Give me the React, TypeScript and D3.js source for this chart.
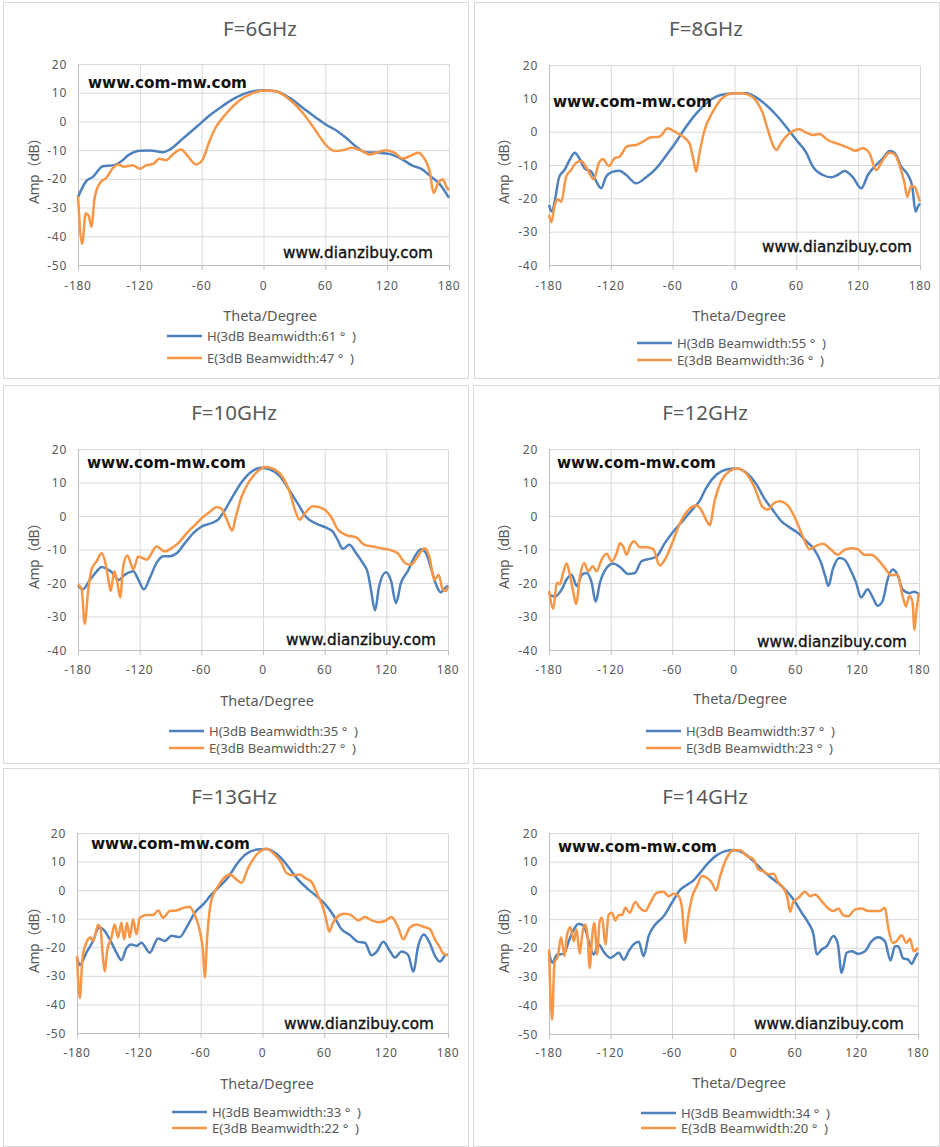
import * as d3 from "d3";

type Pt = [number, number];

// theta (deg) -> amplitude (dB)
const xTicks = [-180, -120, -60, 0, 60, 120, 180];

const h6: Pt[] = [[-180,-26.3],[-172,-20.8],[-165.5,-19.3],[-156,-15.6],[-146,-15.3],[-140,-14.4],[-130,-11.5],[-120,-10.2],[-110,-10.1],[-97.5,-10.7],[-91,-9.8],[-78,-5.9],[-64,-1.6],[-53,1.9],[-40,5.3],[-27,8.3],[-14,10.2],[0,10.9],[12,10.5],[25,8.3],[38,4.8],[51,1.3],[60,-1.0],[70,-3.0],[80,-5.7],[90,-8.8],[99,-10.7],[112,-10.9],[122,-11.3],[135,-13.3],[144,-15.3],[154,-16.7],[162,-19.1],[170,-21.4],[180,-26.6]];
const e6: Pt[] = [[-180,-26],[-176,-42.6],[-172.5,-32],[-169.5,-33],[-167,-36.7],[-164,-27],[-159,-21.6],[-152.5,-19.6],[-146,-16.2],[-141,-15],[-135,-15.8],[-127,-15.3],[-120,-16.5],[-114,-15.3],[-107,-14.8],[-101,-13],[-94.5,-13.5],[-88,-11.5],[-80,-9.8],[-73.5,-12.1],[-65.5,-15],[-59,-13.3],[-53,-7.4],[-46.5,-2.2],[-37,2.4],[-24,7.1],[-11,9.8],[2,10.8],[12,10.5],[25,7.7],[38,3.0],[51,-3.4],[61,-8.4],[69,-10.3],[77,-10],[86,-9.2],[94,-10],[103,-11.5],[112,-10.6],[119,-10],[127,-10.9],[135,-12.9],[142,-12.1],[150,-10.9],[154.5,-12.1],[161.5,-17.9],[165,-24.9],[169.5,-21.4],[174,-20.2],[178,-23.1],[180,-24]];

const h8: Pt[] = [[-180,-22],[-177,-24],[-174.8,-21.5],[-170,-13.5],[-165,-11.5],[-160,-8.5],[-155,-6.3],[-150.5,-8],[-145.6,-11],[-139,-12],[-134,-15],[-129.4,-17],[-124.6,-13.5],[-118,-12],[-111.7,-11.7],[-105,-13],[-95.5,-15.5],[-85.8,-13.7],[-76,-11],[-66,-7],[-56.6,-3],[-47,1.5],[-37,5.5],[-27.5,8.5],[-17.8,10.5],[-8,11.3],[1.6,11.5],[11.3,11.5],[21,10.3],[30.7,8],[40.5,5],[50,1.5],[60,-2.5],[69.6,-6.3],[76,-10.5],[85.8,-13],[93.9,-13.7],[100,-13],[106.8,-11.8],[115,-13.7],[123,-17],[129.4,-13],[137.5,-10],[144,-8],[150.5,-5.8],[155.3,-6.3],[161.8,-10.5],[168.3,-13],[172.5,-16.5],[175.7,-24],[178,-22.5],[180,-21.5]];
const e8: Pt[] = [[-180,-25],[-177.7,-27.2],[-174.8,-22.5],[-171.5,-20.3],[-168,-21],[-163.4,-13.5],[-158.6,-11.5],[-153.7,-9.3],[-148.9,-8.8],[-142.4,-11.5],[-136.6,-14.3],[-131.7,-9.5],[-127.8,-8.2],[-122,-10.3],[-116.5,-8],[-111.7,-7.5],[-103.6,-4.3],[-95.5,-4],[-89,-3],[-81,-1.7],[-72.8,-1.5],[-64.7,1.0],[-58,0],[-50,-1.5],[-43.7,-3.5],[-39.8,-8.5],[-37.2,-12],[-34.6,-7.5],[-29,0.5],[-21,6],[-13,9.7],[-4.9,11.3],[4.9,11.5],[13,11.1],[21,9.3],[27.5,5.5],[32.4,0.5],[37.2,-4],[40.5,-5.5],[45.3,-3.3],[53.4,-0.5],[63,0.7],[69.6,-0.3],[76,-1],[82.5,-0.7],[90.6,-2.5],[102,-3.8],[111.7,-5],[117.5,-5.7],[124.6,-5],[131,-6.5],[137.5,-11.5],[144,-8.5],[150.5,-6.3],[155.3,-6.8],[160,-10],[165,-15.5],[167.6,-19.5],[171.5,-16.3],[174.8,-16.5],[177.3,-18.5],[180,-21]];

const h10: Pt[] = [[-180,-20.7],[-175.4,-21.9],[-168,-18.9],[-161.8,-16.5],[-157,-15.2],[-152,-15.8],[-145.6,-17.2],[-140.8,-19.1],[-134.3,-17.5],[-126.2,-16.5],[-121.4,-18.9],[-115.9,-21.9],[-110,-18.4],[-103.6,-14],[-97,-12],[-90.6,-12],[-84,-11.1],[-76,-8.1],[-68,-5.2],[-60,-3.2],[-51.8,-2.3],[-43.7,-1.1],[-37.2,1.7],[-29,6.1],[-21,10],[-11.3,13.2],[-1.6,14.4],[6.5,13.9],[16.2,12],[26,7.5],[34,3.6],[42,-0.3],[51.8,-2.3],[61.5,-3.5],[68,-4.7],[72.8,-7.2],[77.7,-9.8],[84,-8.6],[90.6,-11.1],[97,-14],[102,-17],[105,-21.9],[109,-28.2],[113,-20.9],[119.7,-16.8],[124.6,-19.4],[129.4,-26],[134.3,-19.9],[140.8,-16.5],[147,-12.5],[153.7,-9.9],[158.6,-11.1],[163.4,-15.5],[168.3,-20.4],[173,-22.8],[176.4,-21.7],[180,-20.7]];
const e10: Pt[] = [[-180,-20.4],[-176.4,-21.9],[-173.5,-32.2],[-170,-21.9],[-166.7,-15.8],[-161.8,-13.5],[-157,-11.1],[-153.7,-13.5],[-150.5,-18.9],[-148.2,-22.4],[-144.7,-16.5],[-141.7,-19.9],[-139,-24.3],[-136,-15],[-132,-11.8],[-128.8,-14],[-126.2,-16],[-121.4,-12.1],[-113,-13],[-108.4,-11.1],[-103.6,-9.1],[-95.5,-10.6],[-89,-9.6],[-82.5,-8.1],[-74.4,-5.2],[-66.3,-2.7],[-58.3,-0.3],[-51.8,1.2],[-45.3,2.6],[-40.5,2.2],[-35.6,-0.8],[-32.4,-3.2],[-30,-4.4],[-26.9,-0.8],[-21,5.6],[-13,10.5],[-4.9,13.4],[3.2,14.6],[11.3,13.9],[19.4,11.5],[26,7.1],[30.7,2.2],[35.6,-1.1],[40.5,0.7],[48.5,2.9],[58.3,2.2],[66.3,-0.3],[72.8,-4],[80.9,-5.7],[90.6,-6.4],[98.7,-8.6],[106.8,-9.1],[114.9,-9.6],[123,-10.1],[131,-11.1],[139,-14.2],[144,-14.5],[150.5,-12.1],[157,-9.6],[161.8,-12.1],[166.7,-19.1],[170.9,-17.5],[174.8,-21.9],[178,-22.4],[180,-21.1]];

const h12: Pt[] = [[-180,-23.6],[-174,-24],[-167.6,-21.9],[-162.8,-18.9],[-158,-17.5],[-153,-20.9],[-148,-17.5],[-143.4,-17],[-138.5,-19.9],[-134.6,-25.6],[-130.4,-19.9],[-124,-15.5],[-117.5,-14.2],[-111,-15.2],[-103,-17.3],[-96.4,-17],[-90,-13.5],[-81.9,-12.8],[-75.4,-12.1],[-67.3,-8.1],[-59.2,-4.7],[-49.5,-1.3],[-39.8,2.2],[-33.3,4.6],[-26.9,8.5],[-17.2,12.3],[-7.4,13.9],[2.3,14.2],[12,12.9],[21.7,9.5],[29.8,5.1],[37.9,1.7],[46,-1.5],[54,-3.4],[62,-5],[70,-7.4],[78.3,-10.1],[84.8,-14],[88.7,-17.9],[91.9,-20.9],[96,-16],[102.6,-12.5],[107.4,-13],[114,-16.5],[118.8,-19.9],[123.6,-24.3],[130,-21.9],[135,-24.3],[139.8,-26.8],[144.7,-25.3],[149.5,-18.9],[154.4,-16],[159,-17.5],[164,-21.9],[170.6,-23],[175.4,-22.6],[180,-23.3]];
const e12: Pt[] = [[-180,-22.4],[-175.7,-27.7],[-172.5,-19.9],[-169.3,-20.4],[-166.7,-17.5],[-162.8,-14.2],[-159.5,-17.9],[-156.3,-22.8],[-153.7,-26.3],[-149.8,-17.9],[-146,-14],[-141.7,-16.5],[-137.5,-15],[-133.7,-16.5],[-128.8,-13],[-124,-11.3],[-119,-13.5],[-114.2,-11.1],[-111,-8.1],[-107.8,-9.1],[-104.5,-11.6],[-100.6,-8.6],[-97.4,-7.5],[-91.6,-9.3],[-85,-9.3],[-78.6,-9.9],[-72.2,-14.8],[-66.3,-12.5],[-60.8,-8.6],[-52.8,-2.3],[-44.7,1.7],[-36.6,3.1],[-31.7,1.7],[-26.9,-1.3],[-23.6,-2.7],[-18.8,4.6],[-12.3,10.5],[-4.2,13.4],[2.9,14.2],[12,12.6],[20,8.5],[28,2.6],[33,1.9],[37.9,3.6],[44.3,4.4],[52.4,3.1],[60.5,-1.3],[67,-6.2],[73.5,-9.9],[80,-8.9],[86.4,-8.3],[94.5,-10.1],[101,-11.6],[107.4,-10.1],[114,-9.6],[120.4,-9.9],[126.9,-11.6],[133.3,-11.6],[141.4,-13.5],[147.9,-16],[152.8,-17.7],[159.2,-17.5],[164,-23.8],[167.3,-27],[170.6,-23.8],[173.8,-25.8],[175.4,-34.1],[177.7,-27.7],[180,-23]];

const h13: Pt[] = [[-180,-23.6],[-177.3,-26.2],[-170.9,-21.9],[-164.4,-17.8],[-158.6,-13.1],[-154.7,-13.7],[-148.2,-17.2],[-141.7,-21.9],[-136.9,-24.5],[-132,-20.3],[-127.2,-19],[-122.3,-19.5],[-117.5,-18.4],[-109.4,-21.9],[-101.3,-16.9],[-94.8,-17.8],[-88.3,-16],[-80.3,-16.4],[-73.8,-13.1],[-65.7,-7.9],[-57.6,-5],[-49.5,-1.5],[-41.4,1.4],[-33.3,4.5],[-25.2,9],[-15.5,12.7],[-5.8,14.2],[3.9,14.4],[13.6,12.7],[23.3,9],[33,4.3],[42.7,0.8],[52.4,-2.1],[60.5,-4.8],[68.6,-8.7],[76.7,-13.7],[84.8,-15.7],[92.9,-18.1],[99.4,-18.4],[105.8,-22.8],[110.7,-21.6],[117.2,-18.1],[123.6,-21.3],[128.5,-23.6],[135,-21.5],[141.4,-22.7],[146.3,-28.5],[151.1,-19.5],[156.6,-15.5],[162.5,-18.7],[167.3,-23],[172.2,-25],[177,-23],[180,-22.5]];
const e13: Pt[] = [[-180,-23],[-177.3,-37.8],[-174.8,-24.2],[-170.9,-18.4],[-167,-16.6],[-164.4,-17.8],[-159.5,-12.2],[-157.3,-13.1],[-154.7,-24.2],[-153,-28.5],[-150.8,-21.3],[-146.6,-16.6],[-143.4,-12],[-140.1,-16.6],[-136.9,-11.4],[-134.3,-17.2],[-131.4,-11.4],[-128.8,-16.6],[-125.6,-10.2],[-122.3,-15.5],[-119.1,-9.7],[-112.6,-8.7],[-106.1,-8.7],[-101.3,-7.1],[-96.4,-9.7],[-90,-7.3],[-83.5,-7.1],[-77,-6.2],[-70.6,-5.9],[-65.7,-8.7],[-60.8,-14.3],[-57.6,-21.9],[-56,-30.6],[-53.7,-16.6],[-49.5,-3.3],[-43,1.4],[-36.6,4.5],[-31.7,5.5],[-25.2,3.7],[-20.4,2.6],[-13.9,7.8],[-5.8,12.4],[3.9,14.5],[12,12.4],[18.4,9.5],[23.3,6],[29.8,5.2],[36.2,5.5],[41.1,4.3],[47.6,2.9],[54,-2.1],[58.9,-6.2],[62.1,-10.8],[64.7,-14.5],[68.6,-11.4],[75,-8.7],[80,-8.3],[86.4,-8.8],[92.9,-10.6],[99.4,-9.4],[105.8,-10.6],[112.3,-11.2],[118.8,-10.8],[125.2,-9.4],[131.7,-13.1],[136.6,-17.2],[143,-13.1],[149.5,-12],[156,-12.8],[162.5,-13.7],[167.3,-17.2],[172.2,-20.1],[175.4,-22.2],[180,-22.7]];

const h14: Pt[] = [[-180,-21.4],[-177,-25.2],[-172,-22.3],[-165.6,-22.1],[-160.7,-17.7],[-155.8,-13.6],[-151,-11.6],[-146,-12.4],[-141.2,-17.7],[-136.4,-22.3],[-131.5,-18.8],[-126.6,-21.4],[-120.1,-23.5],[-116.9,-22.9],[-112,-21.7],[-107.1,-24.1],[-102.3,-21.2],[-97.4,-18.8],[-92.5,-17.9],[-87.7,-22.9],[-82.8,-15.9],[-76.3,-11.9],[-68.2,-9],[-60.1,-4.3],[-51.9,0.3],[-45.5,1.9],[-39,3.5],[-32.5,6.2],[-24.4,9.7],[-16.2,12.3],[-8.1,13.7],[0,14.1],[9.7,13.1],[19.5,10.2],[29.2,6.7],[39,3.8],[48.7,0.9],[58.4,-3.1],[66.6,-7.8],[73,-11.3],[78,-15.3],[81.2,-22.3],[86,-20.6],[91,-19.4],[97.4,-15.9],[101.6,-18.3],[105.5,-28.7],[110.4,-21.7],[115.3,-21.2],[121.8,-22.1],[128.2,-21.2],[134.7,-17.7],[141.2,-16.3],[147.7,-17.7],[153.2,-24.4],[157.5,-19.4],[160.7,-19.4],[165.6,-23.7],[170.5,-24.1],[173.7,-25.6],[177,-23.5],[180,-21.7]];
const e14: Pt[] = [[-180,-20.6],[-177,-45],[-174.7,-25.2],[-171.4,-22.9],[-168.2,-16.3],[-164.9,-22.9],[-162.3,-15.3],[-159.1,-12.8],[-155.8,-17.7],[-153.2,-13.6],[-150,-22.1],[-147.4,-14.8],[-144.5,-11.9],[-142.2,-16.5],[-140.3,-27],[-138,-16.5],[-135.7,-11.3],[-133.1,-22.3],[-130.5,-10.7],[-128.2,-9.5],[-125,-18.8],[-121.8,-8.4],[-118.5,-7.8],[-115.3,-10.5],[-112,-8.6],[-108.8,-8.6],[-105.5,-6],[-101.3,-7.8],[-95.8,-4],[-91.6,-6],[-86,-7.2],[-81.2,-4.3],[-74.7,-0.8],[-68.2,-0.5],[-63.3,-2],[-58.4,-1.2],[-53.6,-2],[-50.3,-6],[-48.7,-13],[-47.1,-18.3],[-44.8,-10.7],[-40.6,-2.6],[-35.7,1.5],[-30.8,5],[-26,4.4],[-21.1,2.7],[-16.9,0],[-13,5],[-6.5,11.4],[0,14],[6.5,14],[13,12],[19.5,10.8],[24.4,7.3],[29.2,6.7],[34.1,5.6],[39,5.8],[43.8,2.7],[48.7,0.9],[52.6,-2.6],[55.2,-7.4],[58.4,-4],[63.3,-2.6],[69.8,-0.5],[74.7,-2],[79.5,-1.4],[86,-3.7],[92.5,-6.3],[97.4,-7.2],[102.3,-6.3],[107.1,-8.6],[112,-9],[118.5,-6.6],[125,-6.3],[131.5,-7.2],[138,-7.2],[142.9,-7.2],[147.7,-6],[151,-13],[155.2,-18.3],[159.1,-17.7],[164,-15.6],[168.8,-18.3],[172.1,-16.7],[175.9,-21.2],[180,-20]];

const hColor = "#4F81BD";
const eColor = "#F79646";
const textColor = "#595959";
const font = "'Noto Sans', 'Noto Sans CJK SC', sans-serif";

interface Panel {
  title: string;
  h: Pt[];
  e: Pt[];
  hBw: number;
  eBw: number;
  yMin: number;
  frame: number[];
  plot: number[];
  titleX: number;
  titleY: number;
  xLabelY: number;
  xTitle: number[];
  yTitle: number[];
  legX: number;
  legY: number[];
  wm1: number[];
  wm2: number[];
}

const panels: Panel[] = [
  { title: "F=6GHz", h: h6, e: e6, hBw: 61, eBw: 47, yMin: -50, frame: [3, 2, 468, 378], plot: [78, 64, 449, 265], titleX: 260, titleY: 28, xLabelY: 285, xTitle: [270, 315], yTitle: [33, 168], legX: 167, legY: [336, 358], wm1: [88, 83], wm2: [283, 253] },
  { title: "F=8GHz", h: h8, e: e8, hBw: 55, eBw: 36, yMin: -40, frame: [474, 2, 939, 378], plot: [549, 65, 920, 265], titleX: 706, titleY: 28, xLabelY: 285, xTitle: [739, 315], yTitle: [503, 168], legX: 637, legY: [343, 360], wm1: [553, 102], wm2: [762, 247] },
  { title: "F=10GHz", h: h10, e: e10, hBw: 35, eBw: 27, yMin: -40, frame: [3, 385, 468, 763], plot: [78, 449, 448, 650], titleX: 234, titleY: 412, xLabelY: 669, xTitle: [267, 700], yTitle: [33, 553], legX: 169, legY: [731, 748], wm1: [87, 463], wm2: [286, 640] },
  { title: "F=12GHz", h: h12, e: e12, hBw: 37, eBw: 23, yMin: -40, frame: [473, 385, 939, 763], plot: [549, 449, 919, 650], titleX: 705, titleY: 412, xLabelY: 669, xTitle: [740, 698], yTitle: [503, 553], legX: 646, legY: [731, 748], wm1: [557, 463], wm2: [757, 642] },
  { title: "F=13GHz", h: h13, e: e13, hBw: 33, eBw: 22, yMin: -50, frame: [3, 768, 468, 1146], plot: [77, 833, 448, 1033], titleX: 234, titleY: 796, xLabelY: 1052, xTitle: [267, 1083], yTitle: [33, 937], legX: 172, legY: [1112, 1128], wm1: [91, 844], wm2: [284, 1024] },
  { title: "F=14GHz", h: h14, e: e14, hBw: 34, eBw: 20, yMin: -50, frame: [473, 768, 939, 1146], plot: [549, 833, 918, 1034], titleX: 705, titleY: 796, xLabelY: 1052, xTitle: [739, 1082], yTitle: [503, 937], legX: 641, legY: [1113, 1128], wm1: [558, 847], wm2: [754, 1024] },
];

function PatternChart({ p }: { p: Panel }) {
  const [l, t, r, b] = p.plot;
  const x = d3.scaleLinear().domain([-180, 180]).range([l, r]);
  const y = d3.scaleLinear().domain([p.yMin, 20]).range([b, t]);
  const yTicks = d3.range(p.yMin, 21, 10);
  const line = d3
    .line<Pt>()
    .x((d) => x(d[0]))
    .y((d) => y(d[1]))
    .curve(d3.curveMonotoneX);
  const [fx0, fy0, fx1, fy1] = p.frame;

  return (
    <g>
      <rect x={fx0 + 0.5} y={fy0 + 0.5} width={fx1 - fx0} height={fy1 - fy0} fill="#fff" stroke="#D9D9D9" />
      <text x={p.titleX} y={p.titleY} textAnchor="middle" dominantBaseline="central" fontSize={20.5} fill={textColor} fontFamily={font}>
        {p.title}
      </text>

      {/* grid */}
      {yTicks.map((v) => (
        <line key={"gy" + v} x1={l} x2={r} y1={y(v) + 0.5} y2={y(v) + 0.5} stroke="#D9D9D9" />
      ))}
      {xTicks.map((v) => (
        <line key={"gx" + v} x1={x(v) + 0.5} x2={x(v) + 0.5} y1={t} y2={b} stroke="#D9D9D9" />
      ))}
      <line x1={l + 0.5} x2={l + 0.5} y1={t} y2={b} stroke="#BFBFBF" />
      <line x1={l} x2={r + 1} y1={b + 0.5} y2={b + 0.5} stroke="#BFBFBF" />
      {xTicks.map((v) => (
        <line key={"tk" + v} x1={x(v) + 0.5} x2={x(v) + 0.5} y1={b} y2={b + 5} stroke="#BFBFBF" />
      ))}

      {/* tick labels */}
      {yTicks.map((v) => (
        <text key={"ly" + v} x={l - 11} y={y(v)} textAnchor="end" dominantBaseline="central" fontSize={12} letterSpacing={0.7} fill={textColor} fontFamily={font}>
          {v}
        </text>
      ))}
      {xTicks.map((v) => (
        <text key={"lx" + v} x={x(v)} y={p.xLabelY} textAnchor="middle" dominantBaseline="central" fontSize={12} letterSpacing={0.7} fill={textColor} fontFamily={font}>
          {v}
        </text>
      ))}
      <text x={p.xTitle[0]} y={p.xTitle[1]} textAnchor="middle" dominantBaseline="central" fontSize={14.5} fill={textColor} fontFamily={font}>
        Theta/Degree
      </text>
      <text
        transform={`translate(${p.yTitle[0]},${p.yTitle[1]}) rotate(-90)`}
        x={-36}
        dominantBaseline="central"
        fontSize={14}
        fill={textColor}
        fontFamily={font}
        textLength={73}
        lengthAdjust="spacing"
      >
        Amp（dB）
      </text>

      {/* curves */}
      <path d={line(p.h) ?? ""} fill="none" stroke={hColor} strokeWidth={2.5} strokeLinejoin="round" />
      <path d={line(p.e) ?? ""} fill="none" stroke={eColor} strokeWidth={2.5} strokeLinejoin="round" />

      {/* watermarks */}
      <text x={p.wm1[0]} y={p.wm1[1]} dominantBaseline="central" fontSize={15} fontWeight="bold" fill="#111" fontFamily="'DejaVu Sans', Verdana, sans-serif" textLength={159} lengthAdjust="spacingAndGlyphs">
        www.com-mw.com
      </text>
      <text x={p.wm2[0]} y={p.wm2[1]} dominantBaseline="central" fontSize={15} fill="#111" stroke="#111" strokeWidth={0.35} fontFamily="'DejaVu Sans', Verdana, sans-serif" textLength={150} lengthAdjust="spacingAndGlyphs">
        www.dianzibuy.com
      </text>

      {/* legend */}
      {[
        { c: hColor, label: `H(3dB Beamwidth:${p.hBw} °  )`, w: 149 },
        { c: eColor, label: `E(3dB Beamwidth:${p.eBw} °  )`, w: 147 },
      ].map((it, i) => (
        <g key={it.label}>
          <line x1={p.legX} x2={p.legX + 35} y1={p.legY[i]} y2={p.legY[i]} stroke={it.c} strokeWidth={2.5} />
          <text
            x={p.legX + 40}
            y={p.legY[i]}
            dominantBaseline="central"
            fontSize={12}
            fill={textColor}
            fontFamily={font}
            textLength={it.w}
            lengthAdjust="spacingAndGlyphs"
            style={{ whiteSpace: "pre" }}
          >
            {it.label}
          </text>
        </g>
      ))}
    </g>
  );
}

export default function App() {
  return (
    <svg
      width={940}
      height={1147}
      viewBox="0 0 940 1147"
      style={{ position: "absolute", left: 0, top: 0, background: "#fff" }}
    >
      {panels.map((p) => (
        <PatternChart key={p.title} p={p} />
      ))}
    </svg>
  );
}
